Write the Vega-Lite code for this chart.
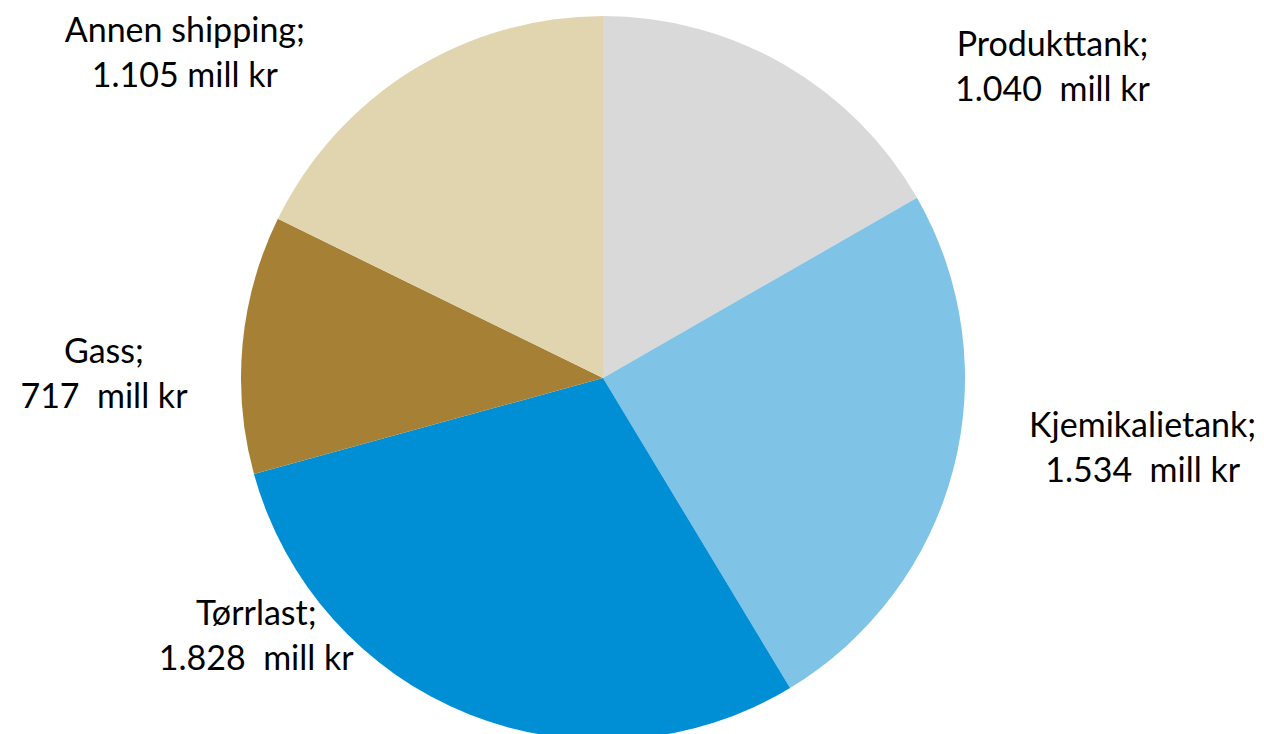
{
  "$schema": "https://vega.github.io/schema/vega-lite/v6.json",
  "width": 1206,
  "height": 756,
  "padding": {"left": 0, "top": 0, "right": 58, "bottom": 0},
  "autosize": {"type": "none"},
  "background": "white",
  "config": {"view": {"stroke": null}},
  "data": {"values": [
    {"rank": 1, "category": "Produkttank", "value": 1040, "label": ["Produkttank;", "1.040\u00a0 mill kr"]},
    {"rank": 2, "category": "Kjemikalietank", "value": 1534, "label": ["Kjemikalietank;", "1.534\u00a0 mill kr"]},
    {"rank": 3, "category": "Tørrlast", "value": 1828, "label": ["Tørrlast;", "1.828\u00a0 mill kr"]},
    {"rank": 4, "category": "Gass", "value": 717, "label": ["Gass;", "717\u00a0 mill kr"]},
    {"rank": 5, "category": "Annen shipping", "value": 1105, "label": ["Annen shipping;", "1.105 mill kr"]}
  ]},
  "encoding": {
    "theta": {"field": "value", "type": "quantitative", "stack": true},
    "order": {"field": "rank", "type": "quantitative"}
  },
  "layer": [
    {
      "mark": {"type": "arc", "outerRadius": 362},
      "encoding": {
        "color": {
          "field": "category", "type": "nominal", "legend": null,
          "scale": {
            "domain": ["Produkttank", "Kjemikalietank", "Tørrlast", "Gass", "Annen shipping"],
            "range": ["#D9D9D9", "#7FC4E7", "#008FD5", "#A68035", "#E0D5AE"]
          }
        }
      }
    },
    {
      "mark": {"type": "text", "radius": 450, "dx": 224, "dy": 57, "font": "Lato", "fontSize": 34, "lineHeight": 45, "align": "center", "baseline": "middle", "color": "#000000"},
      "encoding": {"text": {"condition": {"test": "datum.category === 'Produkttank'", "field": "label"}, "value": ""}}
    },
    {
      "mark": {"type": "text", "radius": 450, "dx": 104, "dy": -64, "font": "Lato", "fontSize": 34, "lineHeight": 45, "align": "center", "baseline": "middle", "color": "#000000"},
      "encoding": {"text": {"condition": {"test": "datum.category === 'Kjemikalietank'", "field": "label"}, "value": ""}}
    },
    {
      "mark": {"type": "text", "radius": 450, "dx": -180, "dy": -181, "font": "Lato", "fontSize": 34, "lineHeight": 45, "align": "center", "baseline": "middle", "color": "#000000"},
      "encoding": {"text": {"condition": {"test": "datum.category === 'Tørrlast'", "field": "label"}, "value": ""}}
    },
    {
      "mark": {"type": "text", "radius": 450, "dx": -51, "dy": 17, "font": "Lato", "fontSize": 34, "lineHeight": 45, "align": "center", "baseline": "middle", "color": "#000000"},
      "encoding": {"text": {"condition": {"test": "datum.category === 'Gass'", "field": "label"}, "value": ""}}
    },
    {
      "mark": {"type": "text", "radius": 450, "dx": -180, "dy": 36, "font": "Lato", "fontSize": 34, "lineHeight": 45, "align": "center", "baseline": "middle", "color": "#000000"},
      "encoding": {"text": {"condition": {"test": "datum.category === 'Annen shipping'", "field": "label"}, "value": ""}}
    }
  ]
}
